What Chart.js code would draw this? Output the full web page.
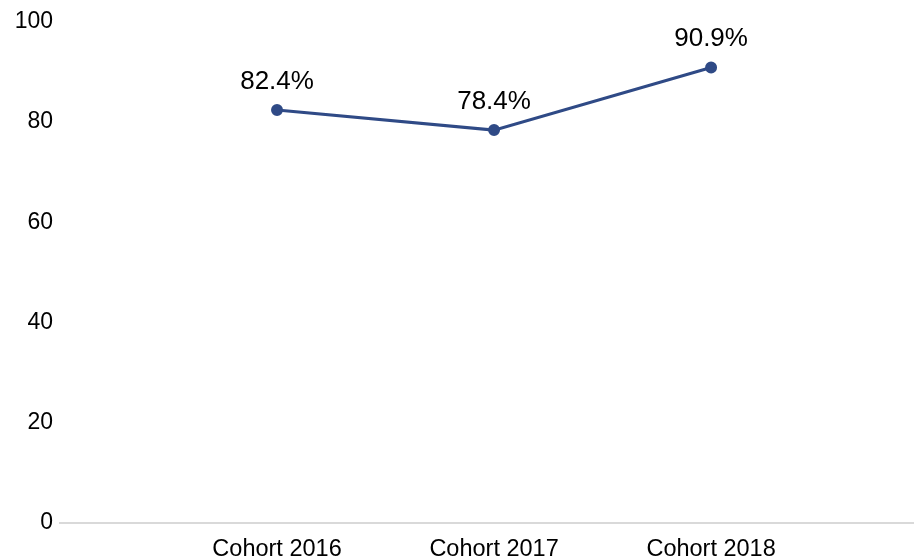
<!DOCTYPE html>
<html>
<head>
<meta charset="utf-8">
<script src="https://cdn.jsdelivr.net/npm/chart.js@4"></script>
<style>
html,body{margin:0;padding:0;background:#fff;overflow:hidden;}
#wrap{width:914px;height:559px;position:relative;}
canvas{display:block;}
</style>
</head>
<body>
<div id="wrap"><canvas id="c"></canvas></div>
<script>
const categories = ["Cohort 2016", "Cohort 2017", "Cohort 2018"];
const values = [82.4, 78.4, 90.9];
const yTicks = [0, 20, 40, 60, 80, 100];

const labelPlugin = {
  id: 'pointLabels',
  afterDatasetsDraw(chart) {
    const ctx = chart.ctx;
    const meta = chart.getDatasetMeta(0);
    ctx.save();
    ctx.font = '26px "Liberation Sans", Arial, sans-serif';
    ctx.fillStyle = '#000';
    ctx.textAlign = 'center';
    ctx.textBaseline = 'middle';
    meta.data.forEach((pt, i) => {
      ctx.fillText(values[i].toFixed(1) + '%', pt.x, pt.y - 28.5);
    });
    ctx.restore();
  }
};

new Chart(document.getElementById('c'), {
  type: 'line',
  data: {
    datasets: [{
      data: values.map((v, i) => ({x: i + 1, y: v})),
      borderColor: '#2F4A86',
      backgroundColor: '#2F4A86',
      borderWidth: 3,
      pointRadius: 4.5,
      pointHoverRadius: 4.5,
      tension: 0
    }]
  },
  options: {
    responsive: true,
    maintainAspectRatio: false,
    animation: false,
    layout: {autoPadding: false, padding: {top: 22, left: 8, right: 0, bottom: 0}},
    plugins: {legend: {display: false}, tooltip: {enabled: false}},
    scales: {
      x: {
        type: 'linear',
        min: 0,
        max: 3.935,
        afterBuildTicks(scale) {
          scale.ticks = categories.map((c, i) => ({value: i + 1}));
        },
        afterFit(scale) {
          scale.height = 36.5;
          scale.paddingLeft = 0;
          scale.paddingRight = 0;
        },
        grid: {display: false, drawTicks: false},
        border: {display: true, color: '#d9d9d9', width: 2},
        ticks: {
          color: '#000',
          font: {family: '"Liberation Sans", Arial, sans-serif', size: 23.5, lineHeight: 1},
          padding: 15,
          maxRotation: 0,
          autoSkip: false,
          callback: (v) => categories[v - 1] || ''
        }
      },
      y: {
        min: 0,
        max: 100,
        afterBuildTicks(scale) {
          scale.ticks = yTicks.map(v => ({value: v}));
        },
        afterFit(scale) {
          scale.width = 52;
        },
        grid: {display: false, drawTicks: false},
        border: {display: false},
        ticks: {
          color: '#000',
          font: {family: '"Liberation Sans", Arial, sans-serif', size: 23},
          padding: 7
        }
      }
    }
  },
  plugins: [labelPlugin]
});
</script>
</body>
</html>
